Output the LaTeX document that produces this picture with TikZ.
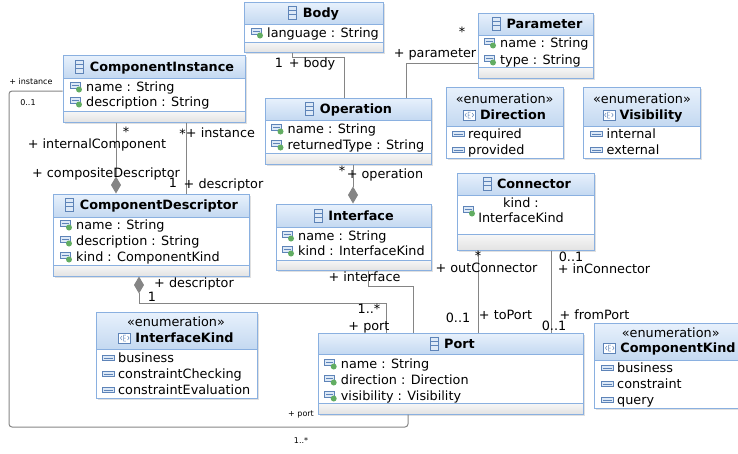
\documentclass[tikz,border=0pt]{standalone}
\usepackage{fontspec}
\setmainfont{DejaVu Sans}
\usetikzlibrary{arrows.meta}
\definecolor{boxblue}{HTML}{8AB0E0}
\definecolor{headtop}{HTML}{E8F1FC}
\definecolor{headbot}{HTML}{C4D9F1}
\definecolor{foottop}{HTML}{F7F7F7}
\definecolor{footbot}{HTML}{E3E3E3}
\definecolor{linegray}{HTML}{858585}
\definecolor{iconblue}{HTML}{5E84B8}
\definecolor{iconfill}{HTML}{DDE9F7}
\definecolor{icongreen}{HTML}{62AD62}
\tikzset{
  boxframe/.style={draw=boxblue,line width=1pt,inner sep=0pt},
  headshade/.style={top color=headtop,bottom color=headbot},
  footshade/.style={top color=foottop,bottom color=footbot},
  boxshadow/.style={fill=black!12},
  sepline/.style={draw=boxblue,line width=0.8pt},
  txt/.style={inner sep=0pt,font=\fontsize{12.8}{15}\selectfont,text height=9.3pt,text depth=0pt},
  attrrow/.style={txt,anchor=west},
  clsname/.style={txt,font=\fontsize{12.8}{15}\selectfont\bfseries},
  rolelbl/.style={txt},
  smalllbl/.style={inner sep=0pt,font=\fontsize{8}{10}\selectfont,text height=5.8pt,text depth=0pt},
  assoc/.style={draw=linegray,line width=1pt},
  compo/.style={assoc,-{Diamond[length=17pt,width=10pt,fill=linegray]}},
  clsicon/.pic={
    \filldraw[draw=iconblue,fill=iconfill,line width=0.6pt] (-4pt,-6.5pt) rectangle (4pt,6.5pt);
    \draw[iconblue,line width=0.6pt] (-4pt,2.5pt) -- (4pt,2.5pt) (-4pt,-1.5pt) -- (4pt,-1.5pt);},
  attricon/.pic={
    \filldraw[draw=iconblue,fill=iconfill,line width=0.6pt] (-6pt,-1pt) rectangle (4pt,5pt);
    \draw[iconblue,line width=0.6pt] (-4.5pt,2pt) -- (2.5pt,2pt);
    \fill[icongreen] (3pt,-2.5pt) circle (3pt);},
  liticon/.pic={
    \filldraw[draw=iconblue,fill=iconfill,line width=0.6pt] (-6pt,-2.5pt) rectangle (6pt,2.5pt);
    \draw[iconblue,line width=0.5pt] (-4.5pt,0pt) -- (4.5pt,0pt);},
  enumicon/.pic={
    \filldraw[draw=iconblue,fill=white,line width=0.6pt] (-6pt,-5pt) rectangle (6pt,5pt);
    \draw[iconblue,line width=0.5pt] (1.2pt,3pt) -- (-1.2pt,3pt) -- (-1.2pt,-3pt) -- (1.2pt,-3pt) (-1.2pt,0pt) -- (0.8pt,0pt)
      (-2.8pt,2pt) -- (-4.3pt,0pt) -- (-2.8pt,-2pt) (2.8pt,2pt) -- (4.3pt,0pt) -- (2.8pt,-2pt);},
}
% class box: name, left, top, right, bottom, header bottom, footer top
\newcommand\umlclass[7]{%
  \fill[boxshadow] (#2+2,#3+2) rectangle (#4+2,#5+2);
  \fill[white] (#2,#3) rectangle (#4,#5);
  \shade[headshade] (#2,#3) rectangle (#4,#6);
  \shade[footshade] (#2,#7) rectangle (#4,#5);
  \draw[sepline] (#2,#6) -- (#4,#6) (#2,#7) -- (#4,#7);
  \node[boxframe,minimum width={(#4-#2)*1pt},minimum height={(#5-#3)*1pt}] (#1) at ({(#2+#4)/2},{(#3+#5)/2}) {};}
% enumeration box: name, left, top, right, bottom, header bottom
\newcommand\umlenum[6]{%
  \fill[boxshadow] (#2+2,#3+2) rectangle (#4+2,#5+2);
  \fill[white] (#2,#3) rectangle (#4,#5);
  \shade[headshade] (#2,#3) rectangle (#4,#6);
  \draw[sepline] (#2,#6) -- (#4,#6);
  \node[boxframe,minimum width={(#4-#2)*1pt},minimum height={(#5-#3)*1pt}] (#1) at ({(#2+#4)/2},{(#3+#5)/2}) {};}
\newcommand\umlattr[4]{\pic at (#2,#3) {attricon}; \node[attrrow] (#1) at (#2+10,#3) {#4};}
\newcommand\umllit[4]{\pic at (#2,#3) {liticon}; \node[attrrow] (#1) at (#2+10,#3) {#4};}
\begin{document}
\begin{tikzpicture}[x=1pt,y=-1pt]
	\useasboundingbox (0,0) rectangle (738,453);
	\clip (0,0) rectangle (738,453);
	% boxes
	\umlclass{body}{244}{2}{383}{52}{24}{42}
	\node[clsname] (body-t) at (321,13) {Body};
	\pic at ([xshift=-10pt]body-t.west) {clsicon};
	\umlattr{body-a1}{257}{33}{language : String}
	\umlclass{param}{478}{13}{593}{78}{35}{67}
	\node[clsname] (param-t) at (544.5,24) {Parameter};
	\pic at ([xshift=-10pt]param-t.west) {clsicon};
	\umlattr{param-a1}{490}{43}{name : String}
	\umlattr{param-a2}{490}{60}{type : String}
	\umlclass{op}{265}{98}{431}{164}{120}{153}
	\node[clsname] (op-t) at (356,109) {Operation};
	\pic at ([xshift=-10pt]op-t.west) {clsicon};
	\umlattr{op-a1}{277.5}{129}{name : String}
	\umlattr{op-a2}{277.5}{145}{returnedType : String}
	\umlclass{intf}{276}{204}{431}{270}{227}{260}
	\node[clsname] (intf-t) at (361,216) {Interface};
	\pic at ([xshift=-10pt]intf-t.west) {clsicon};
	\umlattr{intf-a1}{288}{236}{name : String}
	\umlattr{intf-a2}{288}{251}{kind : InterfaceKind}
	\umlclass{conn}{457}{173}{594}{250}{195}{234}
	\node[clsname] (conn-t) at (534,184) {Connector};
	\pic at ([xshift=-10pt]conn-t.west) {clsicon};
	\pic at (469,211) {attricon};
	\node[inner sep=0pt,align=center,font=\fontsize{12.8}{15}\selectfont] (conn-a1) at (521,210) {kind :\\InterfaceKind};
	\umlclass{ci}{63}{55}{245}{122}{78}{111}
	\node[clsname] (ci-t) at (162,67) {ComponentInstance};
	\pic at ([xshift=-10pt]ci-t.west) {clsicon};
	\umlattr{ci-a1}{76}{87}{name : String}
	\umlattr{ci-a2}{76}{102}{description : String}
	\umlclass{cd}{53}{194}{249}{276}{217}{265}
	\node[clsname] (cd-t) at (159,205) {ComponentDescriptor};
	\pic at ([xshift=-10pt]cd-t.west) {clsicon};
	\umlattr{cd-a1}{66}{225}{name : String}
	\umlattr{cd-a2}{66}{241}{description : String}
	\umlattr{cd-a3}{66}{257}{kind : ComponentKind}
	\umlclass{port}{318}{333}{583}{414}{354}{403}
	\node[clsname] (port-t) at (459.5,344) {Port};
	\pic at ([xshift=-10pt]port-t.west) {clsicon};
	\umlattr{port-a1}{330.7}{364}{name : String}
	\umlattr{port-a2}{330.7}{380}{direction : Direction}
	\umlattr{port-a3}{330.7}{396}{visibility : Visibility}
	\umlenum{dir}{446}{87}{563}{158}{126}
	\node[rolelbl] (dir-s) at (504.7,99) {«enumeration»};
	\node[clsname] (dir-t) at (513,115) {Direction};
	\pic at ([xshift=-10.5pt]dir-t.west) {enumicon};
	\umllit{dir-l1}{458}{134}{required}
	\umllit{dir-l2}{458}{150}{provided}
	\umlenum{vis}{583}{87}{700}{158}{126}
	\node[rolelbl] (vis-s) at (642,99) {«enumeration»};
	\node[clsname] (vis-t) at (651,115) {Visibility};
	\pic at ([xshift=-10.5pt]vis-t.west) {enumicon};
	\umllit{vis-l1}{596.5}{134}{internal}
	\umllit{vis-l2}{596.5}{150}{external}
	\umlenum{ik}{96}{312}{257}{398}{349}
	\node[rolelbl] (ik-s) at (176,322) {«enumeration»};
	\node[clsname] (ik-t) at (184.5,338) {InterfaceKind};
	\pic at ([xshift=-10.5pt]ik-t.west) {enumicon};
	\umllit{ik-l1}{108}{358}{business}
	\umllit{ik-l2}{108}{374}{constraintChecking}
	\umllit{ik-l3}{108}{390}{constraintEvaluation}
	\umlenum{ck}{594}{323}{746}{408}{360}
	\node[rolelbl] (ck-s) at (670.7,333) {«enumeration»};
	\node[clsname] (ck-t) at (678,348) {ComponentKind};
	\pic at ([xshift=-10.5pt]ck-t.west) {enumicon};
	\umllit{ck-l1}{607}{368}{business}
	\umllit{ck-l2}{607}{384}{constraint}
	\umllit{ck-l3}{607}{400}{query}
	% associations
	\draw[assoc] (body.south -| 292,0) |- (344,57) -- (op.north -| 344,0);
	\draw[assoc] (op.north -| 406,0) |- (param.west |- 0,63);
	\draw[compo] (op.south -| 353,0) -- (intf.north -| 353,0);
	\draw[compo] (ci.south -| 116,0) -- (cd.north -| 116,0);
	\draw[assoc] (ci.south -| 186,0) -- (cd.north -| 186,0);
	\draw[assoc,rounded corners=3pt] (ci.west |- 0,91) -- (9,91) -- (9,427) -- (408,427) -- (port.south -| 408,0);
	\draw[assoc,{Diamond[length=17pt,width=10pt,fill=linegray]}-] (cd.south -| 139,0) |- (386,303) -- (port.north -| 386,0);
	\draw[assoc] (intf.south -| 368,0) |- (413,286) -- (port.north -| 413,0);
	\draw[assoc] (conn.south -| 478,0) -- (port.north -| 478,0);
	\draw[assoc] (conn.south -| 551,0) -- (port.north -| 551,0);
	% role names and multiplicities
	\node[rolelbl] (body-m) at (279,63) {1};
	\node[rolelbl] (body-r) at (312,63) {+ body};
	\node[rolelbl] (param-m) at (462,32) {*};
	\node[rolelbl] (param-r) at (435,53) {+ parameter};
	\node[rolelbl] (op-m) at (342,171) {*};
	\node[rolelbl] (op-r) at (385,174) {+ operation};
	\node[rolelbl] (ic-m) at (126,132) {*};
	\node[rolelbl] (ic-r) at (97,144) {+ internalComponent};
	\node[rolelbl] (cdsc-r) at (106,173) {+ compositeDescriptor};
	\node[rolelbl] (inst-m) at (182.5,134) {*};
	\node[rolelbl] (inst-r) at (220.5,133) {+ instance};
	\node[rolelbl] (desc-m) at (173,183) {1};
	\node[rolelbl] (desc-r) at (223.5,184) {+ descriptor};
	\node[smalllbl] (lp-r1) at (31,82) {+ instance};
	\node[smalllbl] (lp-m1) at (28,103) {0..1};
	\node[smalllbl] (lp-r2) at (301,414) {+ port};
	\node[smalllbl] (lp-m2) at (301,441) {1..*};
	\node[rolelbl] (dp-r1) at (194,283) {+ descriptor};
	\node[rolelbl] (dp-m1) at (152,297) {1};
	\node[rolelbl] (dp-m2) at (369,309) {1..*};
	\node[rolelbl] (dp-r2) at (369,326) {+ port};
	\node[rolelbl] (ip-r) at (364.5,277) {+ interface};
	\node[rolelbl] (out-m) at (478,256) {*};
	\node[rolelbl] (out-r) at (486.5,268) {+ outConnector};
	\node[rolelbl] (to-m) at (458,318) {0..1};
	\node[rolelbl] (to-r) at (505.5,315) {+ toPort};
	\node[rolelbl] (in-m) at (571,256.5) {0..1};
	\node[rolelbl] (in-r) at (604,269) {+ inConnector};
	\node[rolelbl] (from-r) at (594.5,315) {+ fromPort};
	\node[rolelbl] (from-m) at (554,326) {0..1};
\end{tikzpicture}
\end{document}
